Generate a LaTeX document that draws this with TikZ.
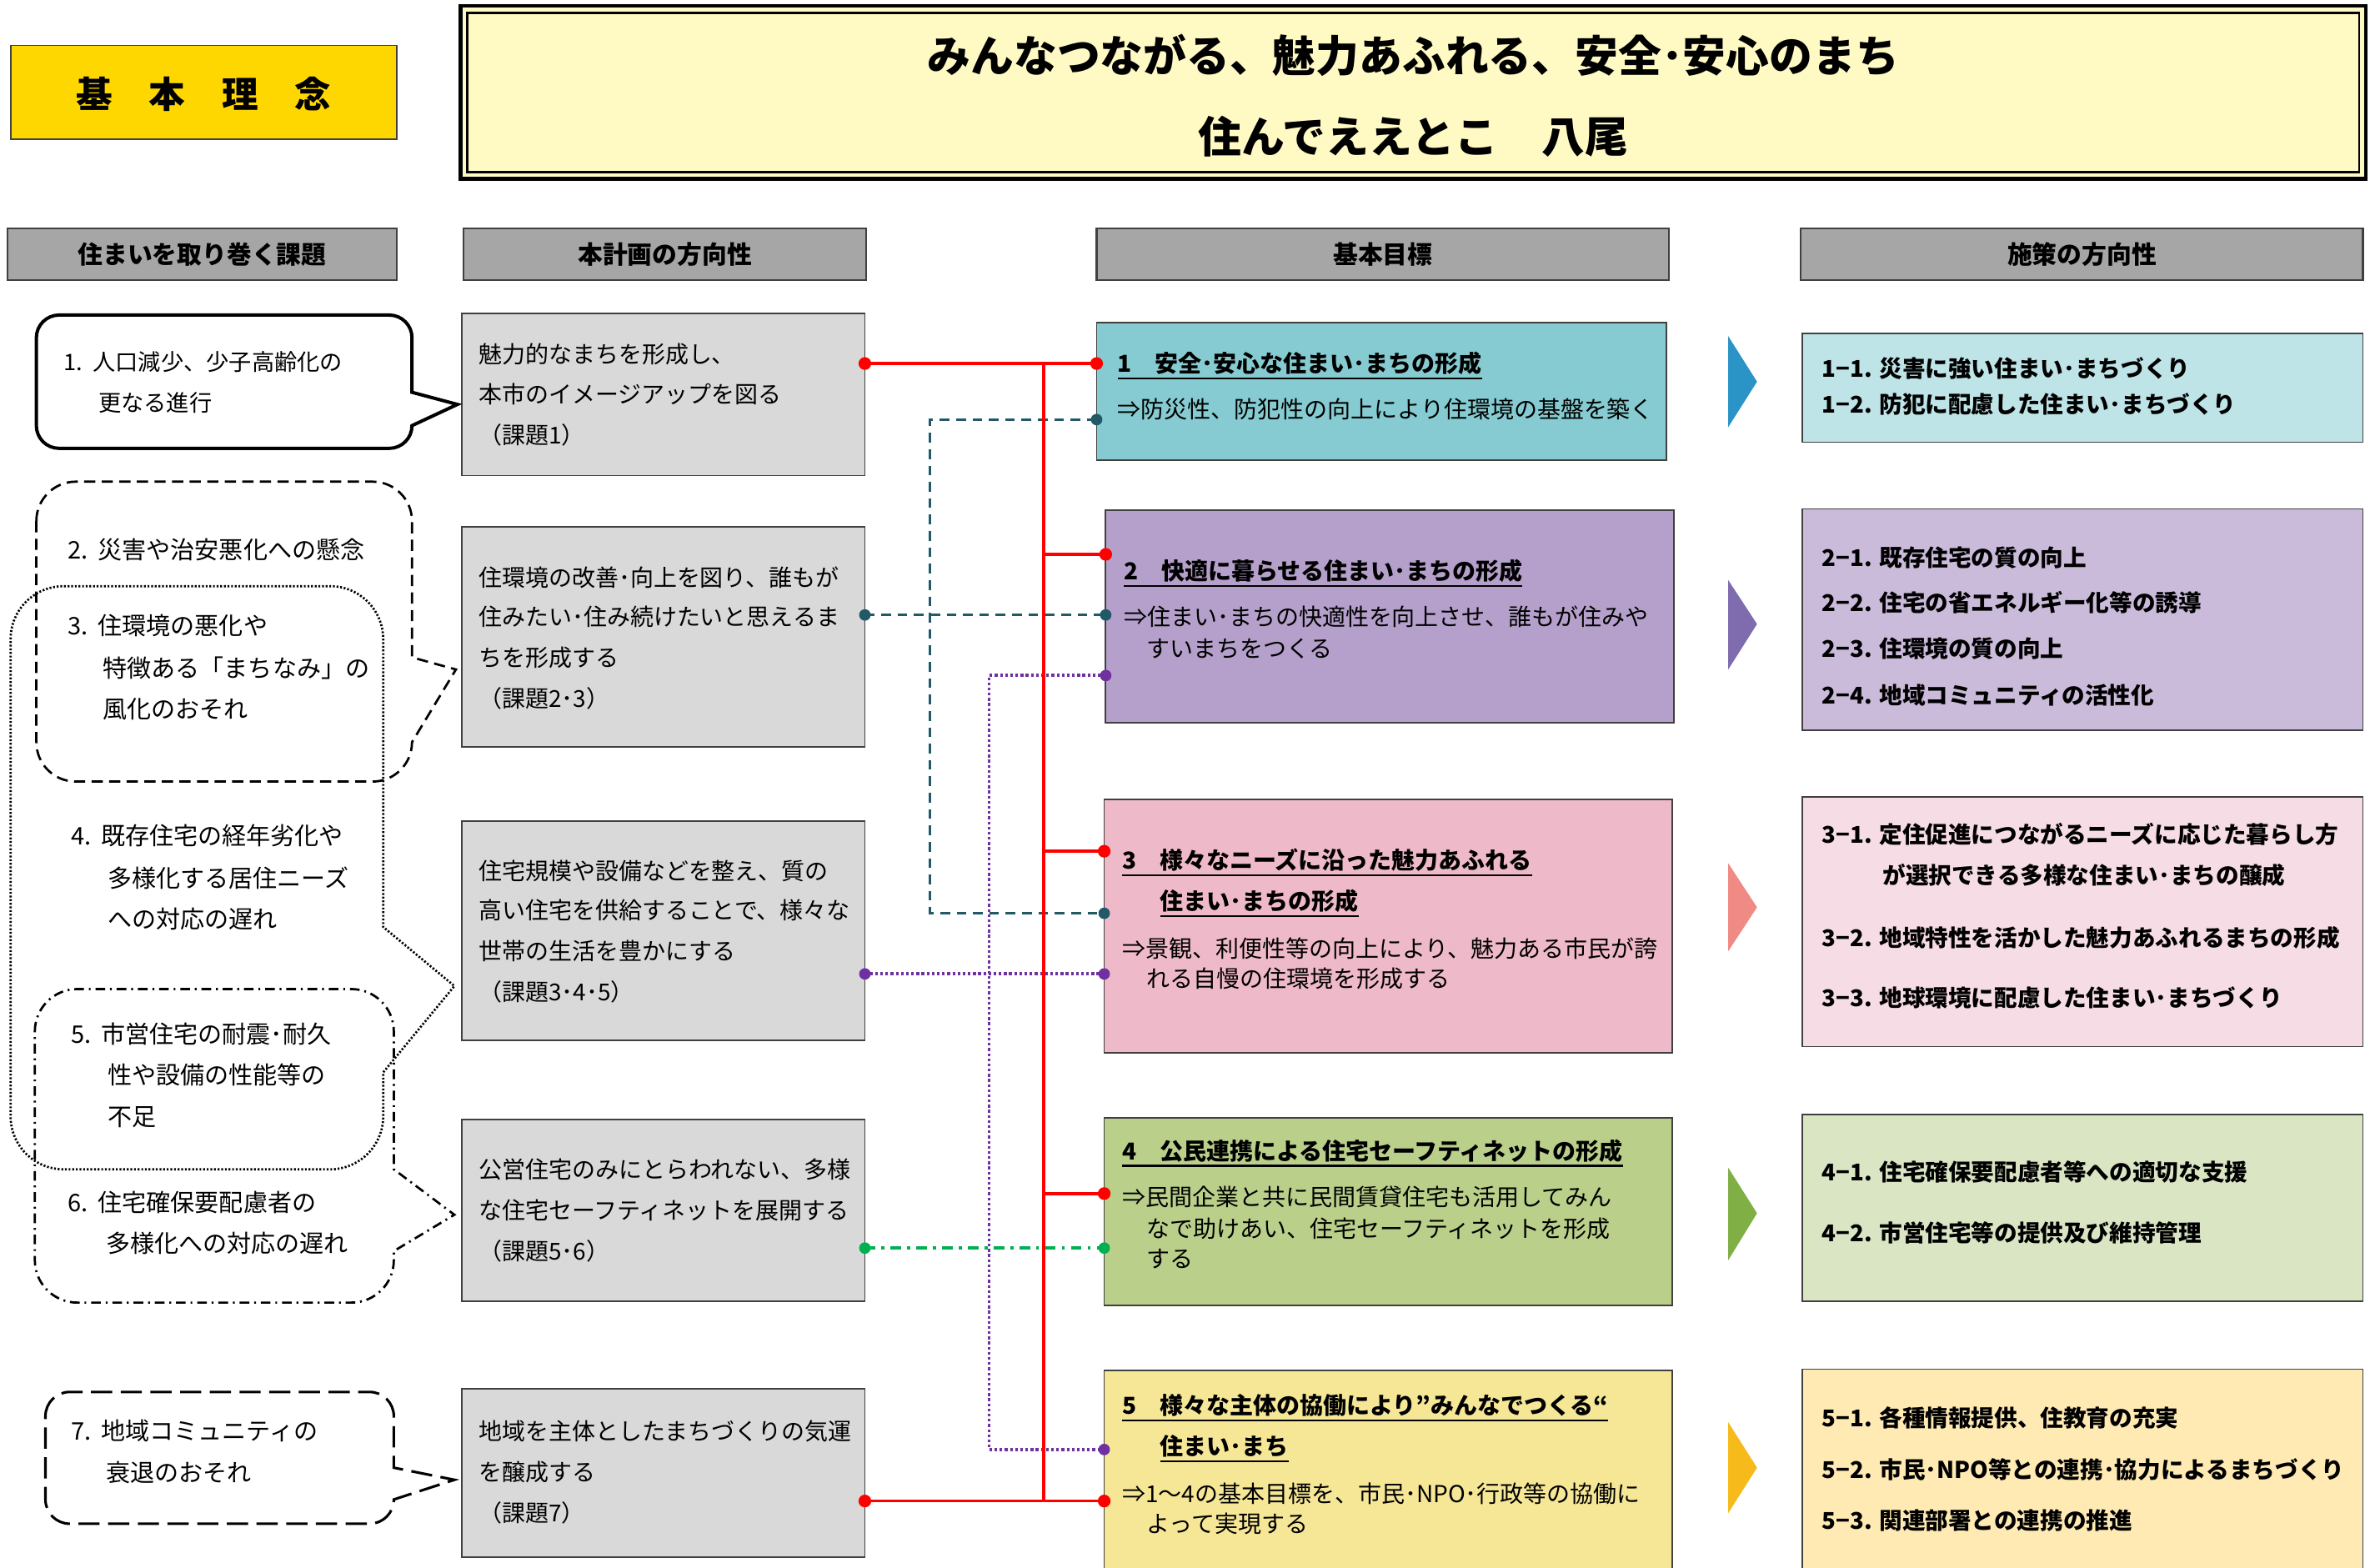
\documentclass[tikz,border=0pt]{standalone}
\usepackage{fontspec}
\setmainfont{Noto Sans CJK JP}
\definecolor{kgold}{HTML}{FFD700}
\definecolor{ttlfill}{HTML}{FFF9C4}
\definecolor{hdrgray}{HTML}{A6A6A6}
\definecolor{boxgray}{HTML}{D9D9D9}
\definecolor{bordc}{HTML}{404040}
\definecolor{g1c}{HTML}{85CBD1}
\definecolor{g2c}{HTML}{B4A0CA}
\definecolor{g3c}{HTML}{EEB9C8}
\definecolor{g4c}{HTML}{B9CF8A}
\definecolor{g5c}{HTML}{F6E797}
\definecolor{p1c}{HTML}{BEE4E8}
\definecolor{p2c}{HTML}{CBBBDB}
\definecolor{p3c}{HTML}{F6DCE4}
\definecolor{p4c}{HTML}{D9E5C3}
\definecolor{p5c}{HTML}{FFEAB3}
\definecolor{a1c}{HTML}{2A94C6}
\definecolor{a2c}{HTML}{7F6CAF}
\definecolor{a3c}{HTML}{F08A84}
\definecolor{a4c}{HTML}{80AF46}
\definecolor{a5c}{HTML}{F6BB1A}
\definecolor{redc}{HTML}{FF0000}
\definecolor{tealc}{HTML}{215966}
\definecolor{purc}{HTML}{7030A0}
\definecolor{grnc}{HTML}{00B050}
\tikzset{
  bx/.style={draw=bordc, line width=0.5pt, anchor=north west, inner sep=0pt, outer sep=0pt},
  hd/.style={draw=bordc, line width=0.6pt, fill=hdrgray, inner sep=0pt, outer sep=0pt, minimum height=17pt, text height=7pt, text depth=1pt, font=\fontsize{8.2}{9}\selectfont\bfseries},
  tb/.style={inner sep=0pt, outer sep=0pt, anchor=west, text height=6.8pt, text depth=0.9pt, font=\fontsize{7.7}{9}\selectfont},
  tgt/.style={tb, font=\fontsize{7.7}{9}\selectfont\bfseries},
  tc/.style={inner sep=0pt, outer sep=0pt, anchor=west, text height=7pt, text depth=1pt, font=\fontsize{8}{9}\selectfont},
  tcs/.style={inner sep=0pt, outer sep=0pt, anchor=west, text height=6.6pt, text depth=0.9pt, font=\fontsize{7.5}{9}\selectfont},
  tp/.style={inner sep=0pt, outer sep=0pt, anchor=west, text height=6.7pt, text depth=0.9pt, font=\fontsize{7.6}{9}\selectfont\bfseries},
  tt/.style={inner sep=0pt, outer sep=0pt, text height=12.5pt, text depth=1.7pt, font=\fontsize{14.25}{16}\selectfont\bfseries},
  ul/.style={line width=0.6pt},
  redl/.style={draw=redc, line width=0.95pt},
  teall/.style={draw=tealc, line width=0.9pt, dash pattern=on 3.2pt off 2.2pt},
  purl/.style={draw=purc, line width=1.05pt, dash pattern=on 0.9pt off 0.8pt},
  grnl/.style={draw=grnc, line width=0.95pt, dash pattern=on 3.5pt off 2pt on 1pt off 2pt},
  co1/.style={draw=black, line width=1.1pt},
  co2/.style={draw=black, line width=0.75pt, dash pattern=on 3.7pt off 2.1pt},
  co3/.style={draw=black, line width=0.75pt, dash pattern=on 0.6pt off 0.6pt},
  co5/.style={draw=black, line width=0.75pt, dash pattern=on 3.2pt off 1.6pt on 0.6pt off 1.6pt},
  co7/.style={draw=black, line width=0.85pt, dash pattern=on 7pt off 2.8pt},
}
\begin{document}
\begin{tikzpicture}[x=0.5pt,y=-0.5pt]
\useasboundingbox (0,0) rectangle (1568,1035);
\fill[white] (0,0) rectangle (1568,1035);

% ---------- top row ----------
\node[bx, fill=kgold, minimum width=127.5pt, minimum height=31pt] (kihon) at (7,30) {};
\node[inner sep=0pt, text height=10.5pt, text depth=1.4pt, font=\fontsize{12}{14}\selectfont\bfseries] (kihont) at (134.5,62) {基　本　理　念};

\node[draw=black, line width=1.2pt, fill=ttlfill, minimum width=629pt, minimum height=57pt, anchor=north west, inner sep=0pt, outer sep=0pt] (ttlbox) at (304,4) {};
\draw[line width=0.7pt] ([xshift=2.2pt,yshift=-2.2pt]ttlbox.north west) rectangle ([xshift=-2.2pt,yshift=2.2pt]ttlbox.south east);
\node[tt] (tt1) at (933,37) {みんなつながる、魅力あふれる、安全･安心のまち};
\node[tt] (tt2) at (933,90) {住んでええとこ　八尾};

% ---------- headers ----------
\node[hd, minimum width=128.5pt] (h1) at (133.5,168) {住まいを取り巻く課題};
\node[hd, minimum width=133pt] (h2) at (439,168) {本計画の方向性};
\node[hd, minimum width=189pt] (h3) at (913,168) {基本目標};
\node[hd, minimum width=185.5pt] (h4) at (1374.5,168) {施策の方向性};

% ---------- column 2 boxes ----------
\node[bx, fill=boxgray, minimum width=133pt, minimum height=53.5pt] (b1) at (305,207) {};
\node[bx, fill=boxgray, minimum width=133pt, minimum height=72.5pt] (b2) at (305,348) {};
\node[bx, fill=boxgray, minimum width=133pt, minimum height=72.5pt] (b3) at (305,542) {};
\node[bx, fill=boxgray, minimum width=133pt, minimum height=60pt] (b4) at (305,739) {};
\node[bx, fill=boxgray, minimum width=133pt, minimum height=55.5pt] (b5) at (305,917) {};

\node[tb] (b1a) at (316,234) {魅力的なまちを形成し、};
\node[tb] (b1b) at (316,260) {本市のイメージアップを図る};
\node[tb] (b1c) at (316,287) {（課題1）};
\node[tb] (b2a) at (316,381) {住環境の改善･向上を図り、誰もが};
\node[tb] (b2b) at (316,407) {住みたい･住み続けたいと思えるま};
\node[tb] (b2c) at (316,434) {ちを形成する};
\node[tb] (b2d) at (316,461) {（課題2･3）};
\node[tb] (b3a) at (316,575) {住宅規模や設備などを整え、質の};
\node[tb] (b3b) at (316,601) {高い住宅を供給することで、様々な};
\node[tb] (b3c) at (316,628) {世帯の生活を豊かにする};
\node[tb] (b3d) at (316,655) {（課題3･4･5）};
\node[tb] (b4a) at (316,772) {公営住宅のみにとらわれない、多様};
\node[tb] (b4b) at (316,799) {な住宅セーフティネットを展開する};
\node[tb] (b4c) at (316,826) {（課題5･6）};
\node[tb] (b5a) at (316,945) {地域を主体としたまちづくりの気運};
\node[tb] (b5b) at (316,972) {を醸成する};
\node[tb] (b5c) at (316,999) {（課題7）};

% ---------- column 3 boxes ----------
\node[bx, fill=g1c, minimum width=188pt, minimum height=45.5pt] (g1) at (724,213) {};
\node[bx, fill=g2c, minimum width=187.5pt, minimum height=70pt] (g2) at (730,337) {};
\node[bx, fill=g3c, minimum width=187.5pt, minimum height=83.5pt] (g3) at (729,528) {};
\node[bx, fill=g4c, minimum width=187.5pt, minimum height=62pt] (g4) at (729,738) {};
\node[bx, fill=g5c, minimum width=187.5pt, minimum height=72pt] (g5) at (729,905) {};

\node[tgt] (g1t) at (738,240) {1　安全･安心な住まい･まちの形成};
\node[tb] (g1s) at (738,270) {⇒防災性、防犯性の向上により住環境の基盤を築く};
\node[tgt] (g2t) at (742,377) {2　快適に暮らせる住まい･まちの形成};
\node[tb] (g2s) at (742,407) {⇒住まい･まちの快適性を向上させ、誰もが住みや};
\node[tb] (g2u) at (757,428) {すいまちをつくる};
\node[tgt] (g3t) at (741,568) {3　様々なニーズに沿った魅力あふれる};
\node[tgt] (g3v) at (766,595) {住まい･まちの形成};
\node[tb] (g3s) at (741,626) {⇒景観、利便性等の向上により、魅力ある市民が誇};
\node[tb] (g3u) at (757,646) {れる自慢の住環境を形成する};
\node[tgt] (g4t) at (741,760) {4　公民連携による住宅セーフティネットの形成};
\node[tb] (g4s) at (741,790) {⇒民間企業と共に民間賃貸住宅も活用してみん};
\node[tb] (g4u) at (757,811) {なで助けあい、住宅セーフティネットを形成};
\node[tb] (g4w) at (757,831) {する};
\node[tgt] (g5t) at (741,928) {5　様々な主体の協働により”みんなでつくる“};
\node[tgt] (g5v) at (766,955) {住まい･まち};
\node[tb] (g5s) at (741,986) {⇒1～4の基本目標を、市民･NPO･行政等の協働に};
\node[tb] (g5u) at (757,1006) {よって実現する};

\foreach \n in {g1t,g2t,g3t,g3v,g4t,g5t,g5v}
  \draw[ul] ([yshift=-1.9pt]\n.base west) -- ([yshift=-1.9pt]\n.base east);

% ---------- arrows ----------
\fill[a1c] (1141,222) -- (1160,252) -- (1141,282) -- cycle;
\fill[a2c] (1141,383) -- (1160,412) -- (1141,442) -- cycle;
\fill[a3c] (1141,570) -- (1160,599) -- (1141,628) -- cycle;
\fill[a4c] (1141,771) -- (1160,801) -- (1141,832) -- cycle;
\fill[a5c] (1141,939) -- (1160,969) -- (1141,999) -- cycle;

% ---------- column 4 boxes ----------
\node[bx, fill=p1c, minimum width=185pt, minimum height=36pt] (p1) at (1190,220) {};
\node[bx, fill=p2c, minimum width=185pt, minimum height=73pt] (p2) at (1190,336) {};
\node[bx, fill=p3c, minimum width=185pt, minimum height=82.5pt] (p3) at (1190,526) {};
\node[bx, fill=p4c, minimum width=185pt, minimum height=61.5pt] (p4) at (1190,736) {};
\node[bx, fill=p5c, minimum width=185pt, minimum height=72pt] (p5) at (1190,904) {};

\node[tp] (p1a) at (1203,243) {1−1. 災害に強い住まい･まちづくり};
\node[tp] (p1b) at (1203,267) {1−2. 防犯に配慮した住まい･まちづくり};
\node[tp] (p2a) at (1203,368) {2−1. 既存住宅の質の向上};
\node[tp] (p2b) at (1203,398) {2−2. 住宅の省エネルギー化等の誘導};
\node[tp] (p2c) at (1203,428) {2−3. 住環境の質の向上};
\node[tp] (p2d) at (1203,459) {2−4. 地域コミュニティの活性化};
\node[tp] (p3a) at (1203,551) {3−1. 定住促進につながるニーズに応じた暮らし方};
\node[tp] (p3b) at (1243,578) {が選択できる多様な住まい･まちの醸成};
\node[tp] (p3c) at (1203,619) {3−2. 地域特性を活かした魅力あふれるまちの形成};
\node[tp] (p3d) at (1203,659) {3−3. 地球環境に配慮した住まい･まちづくり};
\node[tp] (p4a) at (1203,774) {4−1. 住宅確保要配慮者等への適切な支援};
\node[tp] (p4b) at (1203,814) {4−2. 市営住宅等の提供及び維持管理};
\node[tp] (p5a) at (1203,936) {5−1. 各種情報提供、住教育の充実};
\node[tp] (p5b) at (1203,970) {5−2. 市民･NPO等との連携･協力によるまちづくり};
\node[tp] (p5c) at (1203,1004) {5−3. 関連部署との連携の推進};

% ---------- callouts (issues) ----------
\draw[co1] (24,223) arc[start angle=180,end angle=90,radius=7.5pt] -- (257,208)
  arc[start angle=90,end angle=0,radius=7.5pt] -- (272,259) -- (302,267) -- (272,281)
  arc[start angle=0,end angle=-90,radius=7.5pt] -- (39,296)
  arc[start angle=-90,end angle=-180,radius=7.5pt] -- cycle;
\draw[co2] (24,344) arc[start angle=180,end angle=90,radius=13pt] -- (246,318)
  arc[start angle=90,end angle=0,radius=13pt] -- (272,434) -- (301,442) -- (272,490)
  arc[start angle=0,end angle=-90,radius=13pt] -- (50,516)
  arc[start angle=-90,end angle=-180,radius=13pt] -- cycle;
\draw[co3] (7,422) arc[start angle=180,end angle=90,radius=17.5pt] -- (218,387)
  arc[start angle=90,end angle=0,radius=17.5pt] -- (253,612) -- (300,651) -- (253,708) -- (253,737)
  arc[start angle=0,end angle=-90,radius=17.5pt] -- (42,772)
  arc[start angle=-90,end angle=-180,radius=17.5pt] -- cycle;
\draw[co5] (23,681) arc[start angle=180,end angle=90,radius=14pt] -- (232,653)
  arc[start angle=90,end angle=0,radius=14pt] -- (260,772) -- (300,802) -- (260,826) -- (260,832)
  arc[start angle=0,end angle=-90,radius=14pt] -- (51,860)
  arc[start angle=-90,end angle=-180,radius=14pt] -- cycle;
\draw[co7] (30,935) arc[start angle=180,end angle=90,radius=8pt] -- (244,919)
  arc[start angle=90,end angle=0,radius=8pt] -- (260,969) -- (300,977) -- (260,990)
  arc[start angle=0,end angle=-90,radius=8pt] -- (46,1006)
  arc[start angle=-90,end angle=-180,radius=8pt] -- cycle;

\node[tcs] (c1a) at (42,239) {1.\kern0.45em 人口減少、少子高齢化の};
\node[tcs] (c1b) at (65,266) {更なる進行};
\node[tc] (c2a) at (45,363) {2.\kern0.4em 災害や治安悪化への懸念};
\node[tc] (c3a) at (45,413) {3.\kern0.4em 住環境の悪化や};
\node[tc] (c3b) at (68,441) {特徴ある「まちなみ」の};
\node[tc] (c3c) at (68,468) {風化のおそれ};
\node[tc] (c4a) at (47,552) {4.\kern0.4em 既存住宅の経年劣化や};
\node[tc] (c4b) at (71,580) {多様化する居住ニーズ};
\node[tc] (c4c) at (71,607) {への対応の遅れ};
\node[tc] (c5a) at (47,683) {5.\kern0.4em 市営住宅の耐震･耐久};
\node[tc] (c5b) at (71,710) {性や設備の性能等の};
\node[tc] (c5c) at (71,737) {不足};
\node[tc] (c6a) at (45,794) {6.\kern0.4em 住宅確保要配慮者の};
\node[tc] (c6b) at (70,821) {多様化への対応の遅れ};
\node[tc] (c7a) at (47,945) {7.\kern0.4em 地域コミュニティの};
\node[tc] (c7b) at (70,972) {衰退のおそれ};

% ---------- connectors ----------
\coordinate (rtop) at (689,240);
\coordinate (r2) at (689,366);
\coordinate (r3) at (689,562);
\coordinate (r4) at (689,788);
\coordinate (rbot) at (689,991);
\coordinate (t1) at (614,277);
\coordinate (t2) at (614,406);
\coordinate (t3) at (614,603);
\coordinate (u1) at (653,446);
\coordinate (u2) at (653,643);
\coordinate (u3) at (653,957);
\coordinate (v1) at (650,824);

\draw[teall] (b2.east |- t2) -- (g2.west |- t2);
\draw[teall] (g1.west |- t1) -- (t1) -- (t3) -- (g3.west |- t3);
\draw[purl] (b3.east |- u2) -- (g3.west |- u2);
\draw[purl] (g2.west |- u1) -- (u1) -- (u3) -- (g5.west |- u3);
\draw[grnl] (b4.east |- v1) -- (g4.west |- v1);
\draw[redl] (b1.east |- rtop) -- (g1.west |- rtop);
\draw[redl] (rtop) -- (rbot);
\draw[redl] (r2) -- (g2.west |- r2);
\draw[redl] (r3) -- (g3.west |- r3);
\draw[redl] (r4) -- (g4.west |- r4);
\draw[redl] (b5.east |- rbot) -- (g5.west |- rbot);

\foreach \p in {b1.east |- rtop, g1.west |- rtop, g2.west |- r2, g3.west |- r3, g4.west |- r4, g5.west |- rbot, b5.east |- rbot}
  \fill[redc] (\p) circle (2.1pt);
\foreach \p in {b2.east |- t2, g1.west |- t1, g2.west |- t2, g3.west |- t3}
  \fill[tealc] (\p) circle (1.9pt);
\foreach \p in {b3.east |- u2, g3.west |- u2, g2.west |- u1, g5.west |- u3}
  \fill[purc] (\p) circle (1.9pt);
\foreach \p in {b4.east |- v1, g4.west |- v1}
  \fill[grnc] (\p) circle (1.9pt);
\end{tikzpicture}
\end{document}
